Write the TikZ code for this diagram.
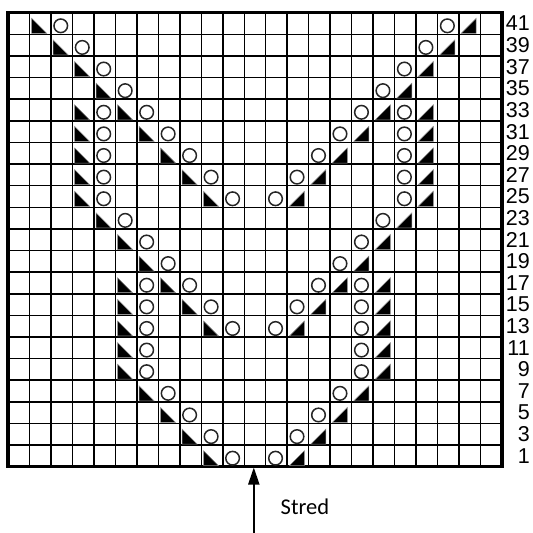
\documentclass[tikz,border=0pt]{standalone}
\usepackage{fontspec}
\setmainfont{Liberation Sans}
\newfontfamily\calfont{Carlito}
\usetikzlibrary{arrows.meta}
\tikzset{
  gridline/.style={line width=1.5pt, draw=black},
  border/.style={line width=3.2pt, draw=black},
  tri/.style={fill=black, draw=black!45, line width=0.5pt, line join=miter},
  ring/.style={draw=black!85, line width=1.5pt},
  rowlabel/.style={anchor=east, inner sep=0pt, font=\fontsize{21.5}{21.5}\selectfont},
  arr/.style={line width=2pt, -{Triangle[length=17pt,width=11pt]}},
}
\begin{document}
\begin{tikzpicture}[x=1pt,y=-1pt]
\useasboundingbox[fill=white] (0,0) rectangle (533,533);
% grid
\foreach \i in {1,...,22} \draw[gridline] ({8+\i*21.478},12.7) -- ({8+\i*21.478},466.7);
\foreach \j in {1,...,20} \draw[gridline] (8,{12.7+\j*21.62}) -- (502,{12.7+\j*21.62});
\draw[border] (8,12.7) rectangle (502,466.7);
% symbols: row / column of the left triangle
\foreach \r/\c in {0/2,1/3,2/4,3/5,4/4,4/6,5/4,5/7,6/4,6/8,7/4,7/9,8/4,8/10,9/5,10/6,11/7,12/6,12/8,13/6,13/9,14/6,14/10,15/6,16/6,17/7,18/8,19/9,20/10}{
  \pgfmathsetmacro\Lx{8+(\c-1)*21.478}
  \pgfmathsetmacro\Ty{12.7+\r*21.62}
  \pgfmathsetmacro\Rx{8+(23-\c)*21.478}
  \filldraw[tri] (\Lx+2.2,\Ty+20.6) -- (\Lx+2.2,\Ty+5.6) -- (\Lx+17.2,\Ty+20.6) -- cycle;
  \draw[ring] (\Lx+21.478+9.8,\Ty+13.1) circle[radius=6.8pt];
  \draw[ring] (\Rx-21.478+9.8,\Ty+13.1) circle[radius=6.8pt];
  \filldraw[tri] (\Rx+2.2,\Ty+20.6) -- (\Rx+17.2,\Ty+20.6) -- (\Rx+17.2,\Ty+5.6) -- cycle;
}
% row labels
\foreach \r in {0,...,20}{
  \pgfmathtruncatemacro\lab{41-2*\r}
  \node[rowlabel] (l\r) at (530,{12.7+(\r+0.5)*21.62}) {\lab};
}
% arrow
\coordinate (foot) at (253.8,533);
\coordinate (tip) at (253.8,467.5);
\draw[arr] (foot) -- (tip);
\node[anchor=base west, inner sep=0pt, font=\calfont\fontsize{22.5}{22.5}\selectfont] (stred) at (280.5,514.3) {Stred};
\end{tikzpicture}
\end{document}
